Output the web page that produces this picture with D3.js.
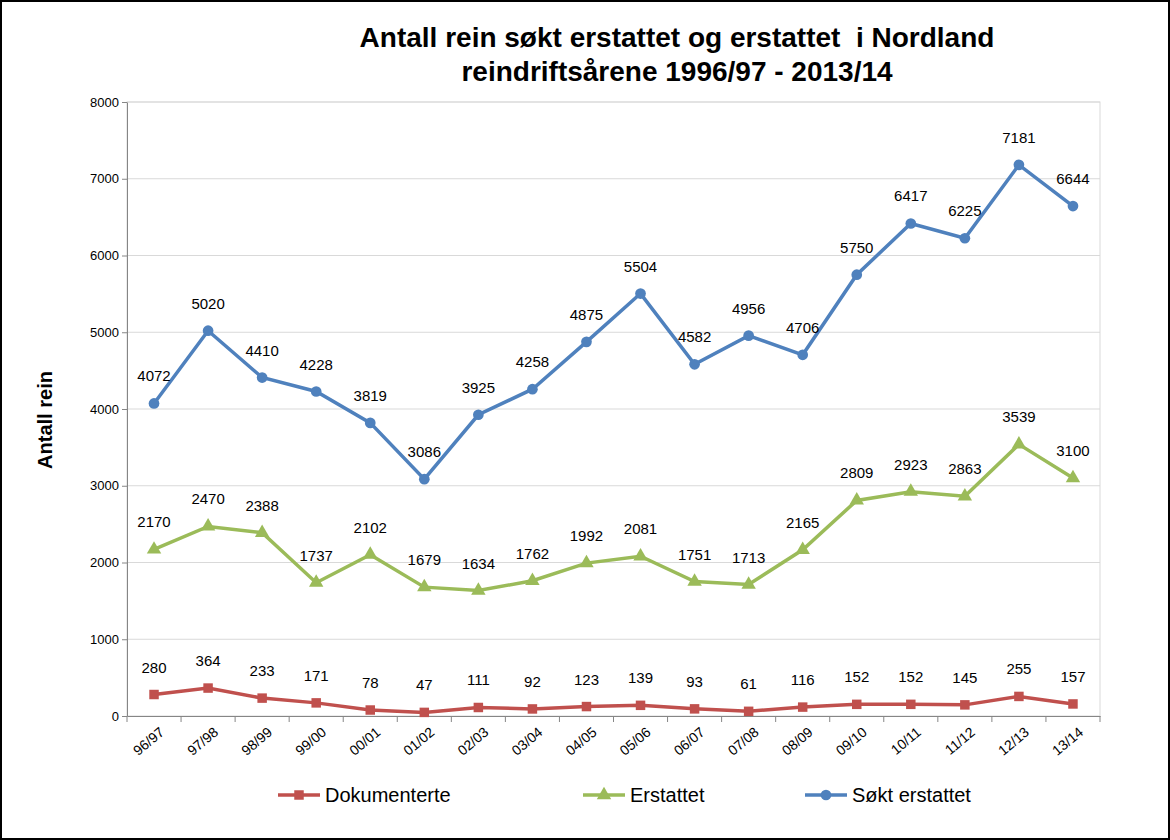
<!DOCTYPE html><html><head><meta charset="utf-8">
<script src="https://cdn.jsdelivr.net/npm/d3@7"></script>
<style>body{margin:0;background:#fff}text{font-family:"Liberation Sans",Arial,sans-serif}</style></head><body>
<svg id="c" width="1170" height="840"></svg>
<script>
const categories=["96/97","97/98","98/99","99/00","00/01","01/02","02/03","03/04","04/05","05/06","06/07","07/08","08/09","09/10","10/11","11/12","12/13","13/14"];
const dokumenterte=[280,364,233,171,78,47,111,92,123,139,93,61,116,152,152,145,255,157];
const erstattet=[2170,2470,2388,1737,2102,1679,1634,1762,1992,2081,1751,1713,2165,2809,2923,2863,3539,3100];
const soktErstattet=[4072,5020,4410,4228,3819,3086,3925,4258,4875,5504,4582,4956,4706,5750,6417,6225,7181,6644];
const yTicks=[0,1000,2000,3000,4000,5000,6000,7000,8000];
const svg=d3.select("#c");
svg.append("rect").attr("x",1).attr("y",1).attr("width",1168).attr("height",838).attr("fill","#fff").attr("stroke","#000").attr("stroke-width",2);
const L=127,R=1100,T=102,B=716;
const x=d3.scaleBand().domain(categories).range([L,R]);
const y=d3.scaleLinear().domain([0,8000]).range([B,T]);
svg.append("g").selectAll("line").data(yTicks.slice(1)).join("line").attr("x1",L).attr("x2",R).attr("y1",d=>y(d)).attr("y2",d=>y(d)).attr("stroke","#d9d9d9");
svg.append("rect").attr("x",L).attr("y",T).attr("width",R-L).attr("height",B-T).attr("fill","none").attr("stroke","#d9d9d9");
const ya=svg.append("g").attr("transform",`translate(${L},0)`).call(d3.axisLeft(y).tickValues(yTicks).tickFormat(d3.format("d")).tickSize(5).tickSizeOuter(0));
ya.selectAll("text").attr("font-size",13).attr("fill","#000");
ya.selectAll("line,path").attr("stroke","#868686");
const xa=svg.append("g").attr("transform",`translate(0,${B})`).call(d3.axisBottom(x).tickSize(0).tickSizeOuter(0));
xa.select("path").attr("stroke","#868686");
xa.selectAll(".tick line").remove();
svg.append("g").selectAll("line").data(categories.concat(["_end"])).join("line")
 .attr("x1",(d,i)=>L+i*x.step()).attr("x2",(d,i)=>L+i*x.step()).attr("y1",B).attr("y2",B+6).attr("stroke","#868686");
xa.selectAll("text").attr("font-size",14).attr("fill","#000").attr("text-anchor","end")
 .attr("transform","translate(8,14) rotate(-40)").attr("dy","0.35em").attr("y",0);
const cx=d=>x(d)+x.bandwidth()/2;
const series=[
 {name:"Dokumenterte",vals:dokumenterte,color:"#c0504d",sym:d3.symbolSquare},
 {name:"Erstattet",vals:erstattet,color:"#9bbb59",sym:d3.symbolTriangle},
 {name:"Søkt erstattet",vals:soktErstattet,color:"#4f81bd",sym:d3.symbolCircle}];
series.forEach(s=>{
 const data=categories.map((c,i)=>[c,s.vals[i]]);
 svg.append("path").datum(data).attr("fill","none").attr("stroke",s.color).attr("stroke-width",3.5)
  .attr("d",d3.line().x(d=>cx(d[0])).y(d=>y(d[1])));
 svg.append("g").selectAll("path").data(data).join("path").attr("d",d3.symbol(s.sym,90)())
  .attr("transform",d=>`translate(${cx(d[0])},${y(d[1])})`).attr("fill",s.color);
 svg.append("g").selectAll("text").data(data).join("text").attr("x",d=>cx(d[0])).attr("y",d=>y(d[1])-22)
  .attr("text-anchor","middle").attr("font-size",15).text(d=>d[1]);
});
svg.append("text").attr("x",677).attr("y",47).attr("text-anchor","middle").attr("font-size",28).attr("font-weight","bold").style("white-space","pre").text("Antall rein søkt erstattet og erstattet  i Nordland");
svg.append("text").attr("x",677).attr("y",81).attr("text-anchor","middle").attr("font-size",28).attr("font-weight","bold").text("reindriftsårene 1996/97 - 2013/14");
svg.append("text").attr("transform","translate(52,420) rotate(-90)").attr("text-anchor","middle").attr("font-size",20).attr("font-weight","bold").attr("font-family","Open Sans").text("Antall rein");
const lx=[278,583,805];
series.forEach((s,i)=>{
 const g=svg.append("g").attr("transform",`translate(${lx[i]},795)`);
 g.append("line").attr("x1",0).attr("x2",42).attr("stroke",s.color).attr("stroke-width",3.5);
 g.append("path").attr("d",d3.symbol(s.sym,90)()).attr("transform","translate(21,0)").attr("fill",s.color);
 g.append("text").attr("x",47).attr("y",7).attr("font-size",20).attr("font-family","Open Sans").text(s.name);
});
</script></body></html>
